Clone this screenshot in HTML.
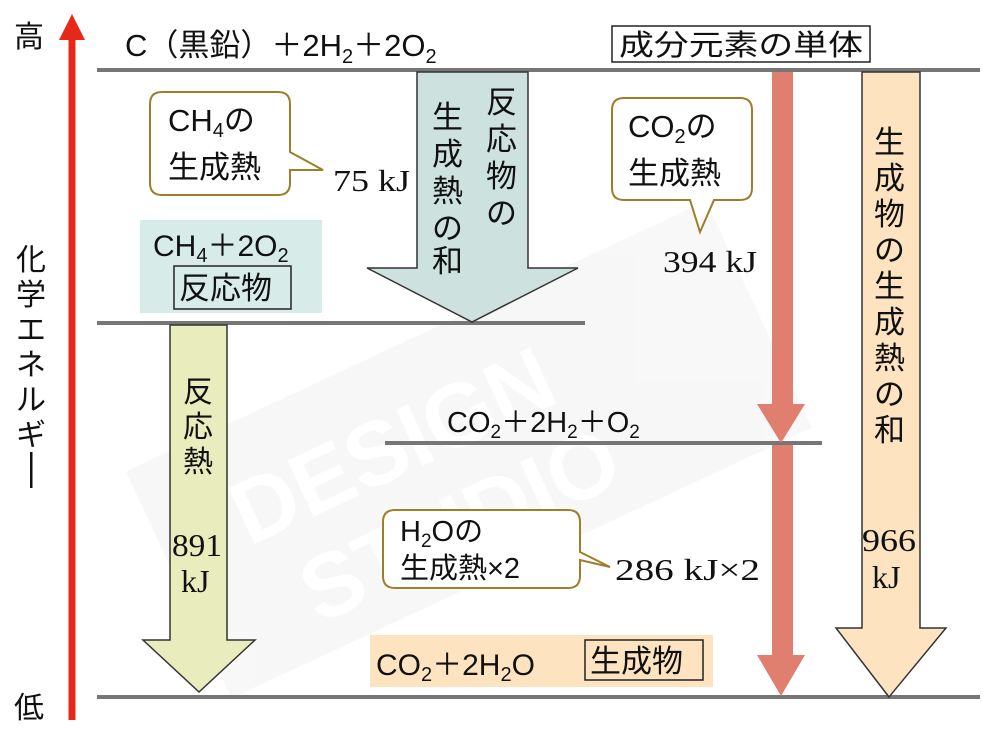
<!DOCTYPE html>
<html><head><meta charset="utf-8"><style>
html,body{margin:0;padding:0;background:#fff;}
svg{display:block}
text{font-family:"Liberation Sans","Noto Sans CJK JP",sans-serif;fill:#111}
.s{font-family:"Liberation Serif","Noto Serif CJK SC",serif}
</style></head><body>
<svg width="992" height="737" viewBox="0 0 992 737" xmlns="http://www.w3.org/2000/svg">
<!-- watermark -->
<g opacity="0.06" transform="rotate(-25 480 450)">
<polygon points="150,320 790,320 790,570 150,570" fill="#888"/>
<text x="230" y="440" font-size="90" font-weight="bold" style="fill:#fff">DESIGN</text>
<text x="260" y="540" font-size="90" font-weight="bold" style="fill:#fff">STUDIO</text>
</g>
<!-- axis -->
<rect x="68.5" y="38" width="7" height="682" fill="#e5281a"/>
<polygon points="72,14 59,40 85,40" fill="#e5281a"/>
<text x="14" y="47" font-size="30">高</text>
<text x="14" y="718" font-size="30">低</text>
<g font-size="30">
<text x="16" y="270">化</text><text x="16" y="305">学</text><text x="16" y="340">エ</text><text x="16" y="375">ネ</text><text x="16" y="410">ル</text><text x="16" y="445">ギ</text>
<rect x="30" y="452" width="2.5" height="36" fill="#111"/>
</g>
<!-- levels -->
<rect x="97" y="68" width="883" height="4" fill="#767676"/>
<rect x="97" y="321" width="488" height="4" fill="#767676"/>
<rect x="385" y="441" width="437" height="4" fill="#767676"/>
<rect x="97" y="695" width="883" height="4" fill="#767676"/>
<text x="125" y="56" font-size="31">C（黒鉛）＋2H<tspan font-size="20" dy="7">2</tspan><tspan dy="-7">＋2O</tspan><tspan font-size="20" dy="7">2</tspan></text>
<rect x="612" y="26" width="258" height="36" fill="#fff" stroke="#222" stroke-width="1.5"/>
<text x="619" y="55" font-size="29" textLength="244" lengthAdjust="spacingAndGlyphs">成分元素の単体</text>
<!-- teal arrow -->
<polygon points="417,72 528,72 528,268 578,268 472,322 367,268 417,268" fill="#cde2de" stroke="#333" stroke-width="1.5"/>
<g font-size="31">
<text x="486" y="113">反</text><text x="486" y="150">応</text><text x="486" y="187">物</text><text x="486" y="224">の</text>
<text x="432" y="128">生</text><text x="432" y="165">成</text><text x="432" y="202">熱</text><text x="432" y="239">の</text><text x="432" y="272">和</text>
</g>
<!-- CH4 callout -->
<path d="M162,92 H278 Q290,92 290,104 V152 L323,170 L290,170 V183 Q290,195 278,195 H162 Q150,195 150,183 V104 Q150,92 162,92 Z" fill="#fff" stroke="#a07d2a" stroke-width="2"/>
<text x="168" y="131" font-size="31">CH<tspan font-size="20" dy="6">4</tspan><tspan dy="-6">の</tspan></text>
<text x="168" y="178" font-size="31">生成熱</text>
<text class="s" x="333" y="191" font-size="31" textLength="77" lengthAdjust="spacingAndGlyphs">75 kJ</text>
<!-- reactant box -->
<rect x="140" y="220" width="182" height="93" fill="#d7ebe8"/>
<text x="153" y="256" font-size="30">CH<tspan font-size="20" dy="6">4</tspan><tspan dy="-6">＋2O</tspan><tspan font-size="20" dy="6">2</tspan></text>
<rect x="174" y="266" width="117" height="43" fill="none" stroke="#222" stroke-width="1.5"/>
<text x="179" y="299" font-size="31">反応物</text>
<!-- yellow arrow -->
<polygon points="170,325 227,325 227,640 255,640 199,692 143,640 170,640" fill="#e9ecbc" stroke="#333" stroke-width="1.5"/>
<g font-size="30"><text x="183" y="402">反</text><text x="183" y="437">応</text><text x="183" y="472">熱</text></g>
<text class="s" x="172" y="556" font-size="32" textLength="50" lengthAdjust="spacingAndGlyphs">891</text>
<text class="s" x="181" y="592" font-size="32">kJ</text>
<!-- red arrows -->
<rect x="772" y="72" width="21" height="334" fill="#e07f70"/>
<polygon points="757,404 805,404 781,443" fill="#e07f70"/>
<rect x="772" y="445" width="21" height="212" fill="#e07f70"/>
<polygon points="757,655 805,655 781,696" fill="#e07f70"/>
<!-- CO2 callout -->
<path d="M624,98 H740 Q752,98 752,110 V188 Q752,200 740,200 H714 L700,232 L690,200 H624 Q612,200 612,188 V110 Q612,98 624,98 Z" fill="#fff" stroke="#a07d2a" stroke-width="2"/>
<text x="628" y="137" font-size="31">CO<tspan font-size="20" dy="6">2</tspan><tspan dy="-6">の</tspan></text>
<text x="628" y="184" font-size="31">生成熱</text>
<text class="s" x="663" y="272" font-size="31" textLength="94" lengthAdjust="spacingAndGlyphs">394 kJ</text>
<!-- orange arrow -->
<polygon points="862,72 920,72 920,628 946,628 889,697 836,628 862,628" fill="#fde3c0" stroke="#333" stroke-width="1.5"/>
<g font-size="31">
<text x="874" y="153">生</text><text x="874" y="189">成</text><text x="874" y="225">物</text><text x="874" y="261">の</text><text x="874" y="297">生</text><text x="874" y="333">成</text><text x="874" y="369">熱</text><text x="874" y="405">の</text><text x="874" y="441">和</text>
</g>
<text class="s" x="862" y="551" font-size="32" textLength="54" lengthAdjust="spacingAndGlyphs">966</text>
<text class="s" x="872" y="588" font-size="32">kJ</text>
<!-- middle level -->
<text x="447" y="432" font-size="29">CO<tspan font-size="19" dy="6">2</tspan><tspan dy="-6">＋2H</tspan><tspan font-size="19" dy="6">2</tspan><tspan dy="-6">＋O</tspan><tspan font-size="19" dy="6">2</tspan></text>
<!-- H2O callout -->
<path d="M395,510 H568 Q580,510 580,522 V552 L610,567 L580,560 V576 Q580,588 568,588 H395 Q383,588 383,576 V522 Q383,510 395,510 Z" fill="#fff" stroke="#a07d2a" stroke-width="2"/>
<text x="400" y="541" font-size="29">H<tspan font-size="19" dy="6">2</tspan><tspan dy="-6">Oの</tspan></text>
<text x="400" y="578" font-size="29">生成熱×2</text>
<text class="s" x="615" y="580" font-size="31" textLength="145" lengthAdjust="spacingAndGlyphs">286 kJ×2</text>
<!-- product box -->
<rect x="370" y="635" width="343" height="52" fill="#fde3c0"/>
<text x="376" y="675" font-size="30">CO<tspan font-size="20" dy="6">2</tspan><tspan dy="-6">＋2H</tspan><tspan font-size="20" dy="6">2</tspan><tspan dy="-6">O</tspan></text>
<rect x="585" y="640" width="118" height="40" fill="none" stroke="#222" stroke-width="1.5"/>
<text x="590" y="672" font-size="31">生成物</text>
</svg>
</body></html>
